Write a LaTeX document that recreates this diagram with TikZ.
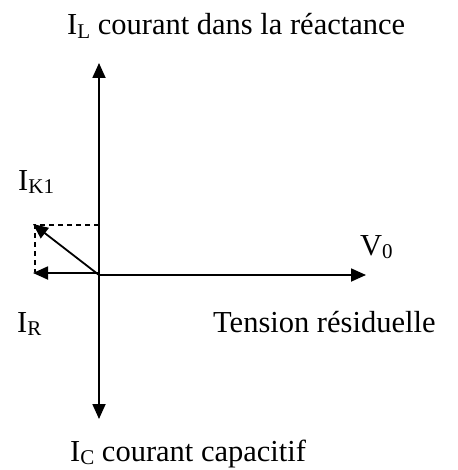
\documentclass[tikz,border=0pt]{standalone}
\usepackage{fontspec}
\setmainfont{Liberation Serif}
\usetikzlibrary{arrows.meta}
\newcommand\mysub[1]{\raisebox{-0.12em}{\fontsize{21}{21}\selectfont #1}}
\begin{document}
\begin{tikzpicture}[x=1pt,y=-1pt,
  lbl/.style={anchor=base west,inner sep=0pt,font=\fontsize{30.5}{36}\selectfont},
  vec/.style={line width=1.8pt,-{Triangle[length=15pt,width=13pt]}},
  guide/.style={line width=1.5pt,dash pattern=on 5pt off 4pt}]
\useasboundingbox (0,0) rectangle (457,470);
\coordinate (O) at (99,275);
\coordinate (Ltip) at (99,63);
\coordinate (Ctip) at (99,419);
\coordinate (Vtip) at (366,275);
\coordinate (Rstart) at (99,273);
\coordinate (Rtip) at (33,273);
\coordinate (Ktip) at (33,224);
\coordinate (Kdash) at (99,225);
\coordinate (Dcorner) at (35,225);
\coordinate (Dend) at (35,272);
\draw[vec] (O) -- (Ltip);
\draw[vec] (O) -- (Ctip);
\draw[vec] (O) -- (Vtip);
\draw[vec] (Rstart) -- (Rtip);
\draw[vec] (O) -- (Ktip);
\draw[guide] (Kdash) -- (Dcorner) -- (Dend);
\node[lbl] (IL) at (67,35) {I\mysub{L} courant dans la réactance};
\node[lbl] (IK) at (18,190) {I\mysub{K1}};
\node[lbl] (V0) at (360,255) {V\mysub{0}};
\node[lbl] (IR) at (17,332) {I\mysub{R}};
\node[lbl] (TR) at (213,332) {Tension résiduelle};
\node[lbl] (IC) at (70,461) {I\mysub{C} courant capacitif};
\end{tikzpicture}
\end{document}
